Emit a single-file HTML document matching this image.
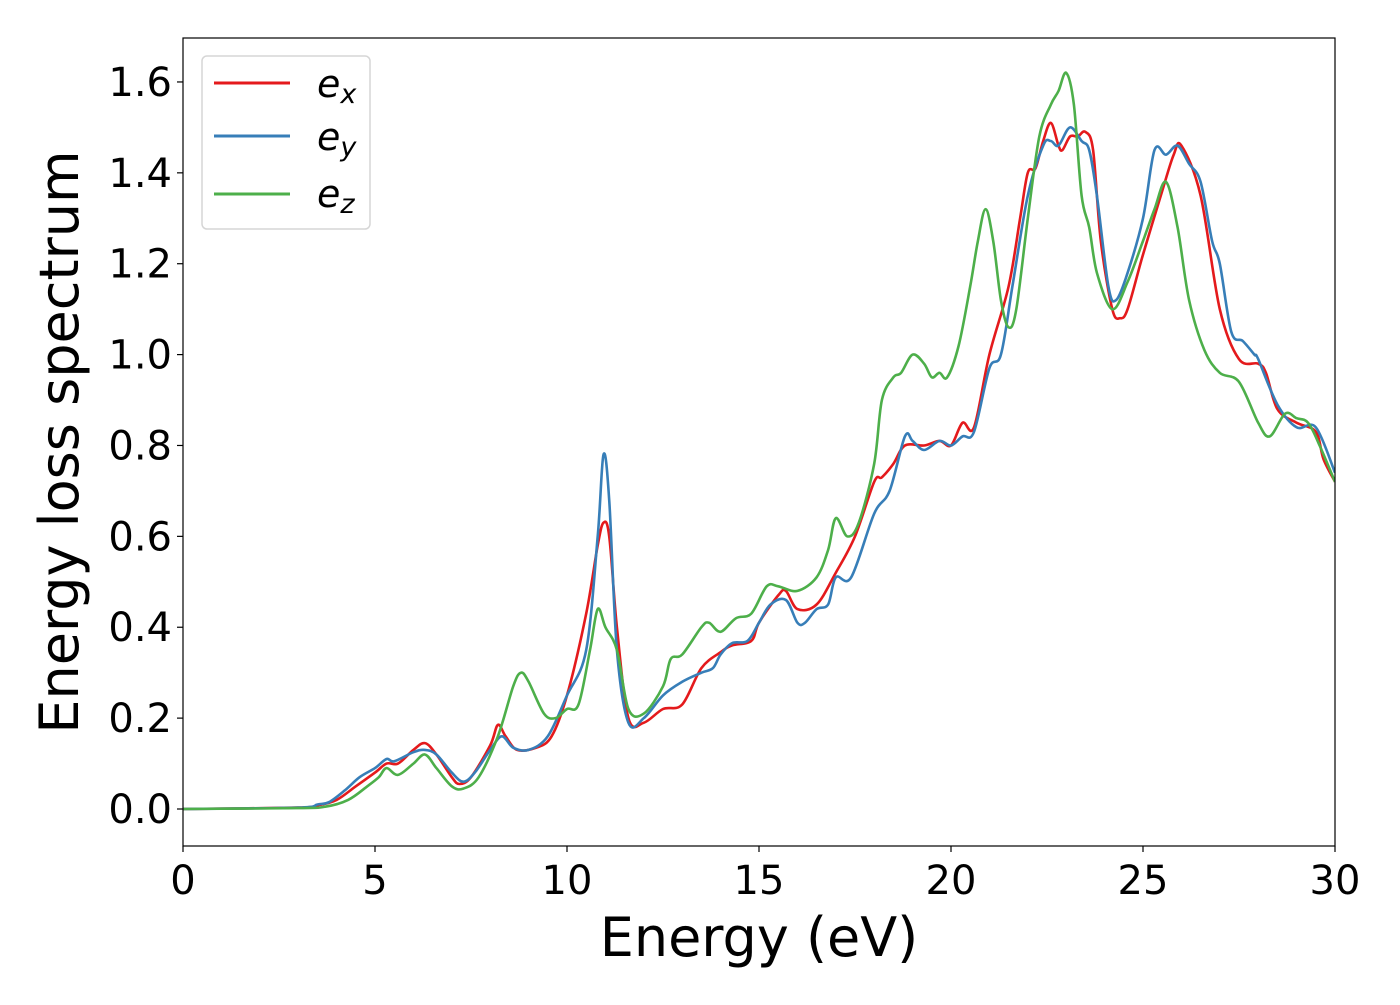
<!DOCTYPE html>
<html><head><meta charset="utf-8"><style>
body{margin:0;background:#fff;}
text{font-family:"DejaVu Sans","Liberation Sans",sans-serif;fill:#000;}
</style></head><body>
<svg id="chart" width="1400" height="1000" xmlns="http://www.w3.org/2000/svg">
<rect x="0" y="0" width="1400" height="1000" fill="#fff"/>
<g id="plot"></g>
<g id="axes"></g>
<text x="759" y="956" font-size="54" text-anchor="middle">Energy (eV)</text>
<text transform="translate(78,442) rotate(-90)" font-size="54" text-anchor="middle">Energy loss spectrum</text>
<g>
<rect x="202" y="56" width="168" height="173" rx="5" fill="#fff" stroke="#d6d6d6" stroke-width="1.5"/>
<line x1="214" y1="83" x2="290" y2="83" stroke="#e41a1c" stroke-width="3"/>
<text x="317" y="97" font-size="38" font-style="italic">e<tspan font-size="27" dy="6">x</tspan></text>
<line x1="214" y1="136" x2="290" y2="136" stroke="#377eb8" stroke-width="3"/>
<text x="317" y="150" font-size="38" font-style="italic">e<tspan font-size="27" dy="6">y</tspan></text>
<line x1="214" y1="194" x2="290" y2="194" stroke="#4daf4a" stroke-width="3"/>
<text x="317" y="207" font-size="38" font-style="italic">e<tspan font-size="27" dy="6">z</tspan></text>
</g>
</svg>
<script>
const xTicks=[0,5,10,15,20,25,30];
const yTicks=[0.0,0.2,0.4,0.6,0.8,1.0,1.2,1.4,1.6];
const exE=[0,3,3.5,4,4.5,5,5.3,5.6,6,6.3,6.6,7,7.2,7.5,8,8.2,8.4,8.7,9.2,9.6,10,10.5,10.8,10.95,11.1,11.3,11.6,12,12.5,13,13.5,14,14.3,14.8,15,15.5,15.7,16,16.5,17,17.5,18,18.2,18.5,18.8,19.3,19.7,20,20.3,20.6,21,21.5,21.8,22,22.2,22.4,22.6,22.8,22.9,23.1,23.3,23.5,23.7,23.9,24.2,24.4,24.6,25,25.5,25.8,26,26.5,27,27.5,28,28.2,28.5,29,29.5,29.7,30];
const exV=[0,0.003,0.008,0.02,0.05,0.08,0.1,0.1,0.13,0.145,0.12,0.07,0.055,0.07,0.14,0.185,0.16,0.13,0.135,0.16,0.25,0.43,0.58,0.63,0.6,0.4,0.2,0.19,0.22,0.23,0.31,0.345,0.36,0.37,0.41,0.47,0.48,0.44,0.45,0.52,0.6,0.72,0.73,0.76,0.8,0.8,0.81,0.8,0.85,0.84,1.0,1.15,1.3,1.4,1.41,1.47,1.51,1.46,1.45,1.48,1.48,1.49,1.45,1.25,1.1,1.08,1.1,1.22,1.36,1.44,1.46,1.35,1.1,0.99,0.98,0.96,0.88,0.85,0.83,0.77,0.72];
const eyE=[0,3,3.5,3.8,4.2,4.6,5,5.3,5.5,6,6.3,6.6,7,7.3,7.6,8,8.3,8.6,9,9.5,10,10.5,10.8,10.95,11.1,11.3,11.6,12,12.5,13,13.5,13.8,14,14.3,14.7,15,15.3,15.7,16,16.2,16.5,16.8,17,17.4,18,18.4,18.8,19,19.3,19.7,20,20.3,20.6,21,21.3,21.6,22,22.4,22.6,22.8,23.1,23.4,23.6,23.8,24.1,24.3,24.6,25,25.3,25.6,25.9,26.2,26.5,26.8,27,27.3,27.6,27.9,28,28.5,29,29.5,30];
const eyV=[0,0.003,0.01,0.015,0.04,0.07,0.09,0.11,0.105,0.125,0.13,0.12,0.08,0.06,0.08,0.13,0.16,0.135,0.13,0.16,0.25,0.35,0.6,0.78,0.68,0.35,0.19,0.2,0.25,0.28,0.3,0.31,0.34,0.365,0.37,0.41,0.45,0.46,0.41,0.41,0.44,0.45,0.51,0.51,0.65,0.7,0.82,0.81,0.79,0.81,0.8,0.82,0.83,0.97,1.0,1.15,1.35,1.46,1.47,1.46,1.5,1.47,1.45,1.35,1.15,1.12,1.18,1.3,1.45,1.44,1.46,1.42,1.38,1.25,1.2,1.05,1.03,1.0,0.99,0.89,0.84,0.84,0.74];
const ezE=[0,3,3.7,4.3,4.8,5.1,5.3,5.6,6,6.3,6.6,7,7.3,7.7,8.2,8.6,8.8,9,9.4,9.7,10,10.3,10.6,10.8,11,11.3,11.6,12,12.5,12.7,13,13.5,13.7,14,14.4,14.8,15.2,15.5,16,16.5,16.8,17,17.3,17.6,18,18.2,18.5,18.7,19,19.3,19.5,19.7,19.9,20.2,20.5,20.7,20.9,21.1,21.3,21.5,21.7,22,22.3,22.6,22.8,23,23.2,23.4,23.6,23.8,24.2,24.6,25,25.3,25.6,25.9,26.2,26.6,27,27.5,28,28.3,28.7,29,29.3,29.6,30];
const ezV=[0,0.002,0.005,0.02,0.05,0.07,0.09,0.075,0.1,0.12,0.09,0.05,0.045,0.07,0.16,0.27,0.3,0.28,0.21,0.2,0.22,0.23,0.35,0.44,0.4,0.35,0.22,0.21,0.27,0.33,0.34,0.4,0.41,0.39,0.42,0.43,0.49,0.49,0.48,0.51,0.57,0.64,0.6,0.63,0.76,0.9,0.95,0.96,1.0,0.98,0.95,0.96,0.95,1.02,1.15,1.25,1.32,1.25,1.12,1.06,1.1,1.3,1.48,1.55,1.58,1.62,1.55,1.35,1.28,1.18,1.1,1.16,1.25,1.32,1.38,1.28,1.12,1.01,0.96,0.94,0.85,0.82,0.87,0.86,0.85,0.8,0.72];

const X0=183,X1=1335,Y0=38,Y1=846;
const xs=v=>X0+(v-0)/(30-0)*(X1-X0);
const ys=v=>809-v*454.4;
const NS='http://www.w3.org/2000/svg';
const plot=document.getElementById('plot'),axes=document.getElementById('axes');
function mk(t,a,p){const e=document.createElementNS(NS,t);for(const k in a)e.setAttribute(k,a[k]);p.appendChild(e);return e;}
function pathFor(E,V){
  const P=E.map((e,i)=>[xs(e),ys(V[i])]);
  let d='M'+P[0][0].toFixed(1)+','+P[0][1].toFixed(1);
  for(let i=0;i<P.length-1;i++){
    const p0=P[Math.max(0,i-1)],p1=P[i],p2=P[i+1],p3=P[Math.min(P.length-1,i+2)];
    const c1=[p1[0]+(p2[0]-p0[0])/6,p1[1]+(p2[1]-p0[1])/6];
    const c2=[p2[0]-(p3[0]-p1[0])/6,p2[1]-(p3[1]-p1[1])/6];
    d+='C'+c1.map(v=>v.toFixed(1)).join(',')+' '+c2.map(v=>v.toFixed(1)).join(',')+' '+p2[0].toFixed(1)+','+p2[1].toFixed(1);
  }
  return d;
}
mk('clipPath',{id:'clip'},plot).appendChild(Object.assign(document.createElementNS(NS,'rect'),{}));
const cr=plot.querySelector('clipPath rect');cr.setAttribute('x',X0);cr.setAttribute('y',Y0);cr.setAttribute('width',X1-X0);cr.setAttribute('height',Y1-Y0);
const series=[[exE,exV,'#e41a1c','series-ex'],[eyE,eyV,'#377eb8','series-ey'],[ezE,ezV,'#4daf4a','series-ez']];
series.forEach(s=>{
  const p=mk('path',{d:pathFor(s[0],s[1]),fill:'none',stroke:s[2],'stroke-width':2.6,'clip-path':'url(#clip)'},plot);
  
  
});
const frame=mk('rect',{x:X0,y:Y0,width:X1-X0,height:Y1-Y0,fill:'none',stroke:'#000','stroke-width':1.2},axes);


xTicks.forEach(t=>{
  const l=mk('line',{x1:xs(t),x2:xs(t),y1:Y1,y2:Y1+6,stroke:'#000','stroke-width':1.2},axes);
  
  
  const tx=mk('text',{x:xs(t),y:Y1+48,'font-size':40,'text-anchor':'middle'},axes);
  tx.textContent=t;
  
  
});
yTicks.forEach(t=>{
  const l=mk('line',{x1:X0-6,x2:X0,y1:ys(t),y2:ys(t),stroke:'#000','stroke-width':1.2},axes);
  
  
  const tx=mk('text',{x:X0-11,y:ys(t)+14,'font-size':40,'text-anchor':'end'},axes);
  tx.textContent=t.toFixed(1);
  
  
});
</script>
</body></html>
